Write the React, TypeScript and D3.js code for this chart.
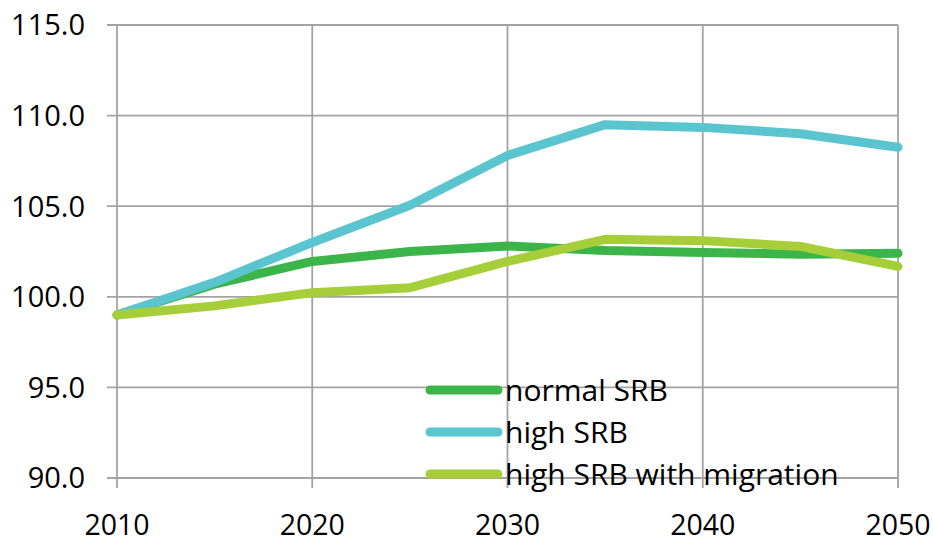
import React from "react";
import * as d3 from "d3";

const years = [2010, 2015, 2020, 2025, 2030, 2035, 2040, 2045, 2050];
const normalSRB = [99.0, 100.7, 101.95, 102.5, 102.8, 102.55, 102.45, 102.35, 102.4];
const highSRB = [99.0, 100.8, 103.0, 105.05, 107.8, 109.5, 109.35, 109.0, 108.25];
const highSRBMigration = [99.0, 99.5, 100.23, 100.5, 101.95, 103.17, 103.1, 102.78, 101.68];
const yTicks = [90, 95, 100, 105, 110, 115];
const xTicks = [2010, 2020, 2030, 2040, 2050];

const series = [
  { name: "normal SRB", values: normalSRB, color: "#3bb54a" },
  { name: "high SRB", values: highSRB, color: "#5bc5cf" },
  { name: "high SRB with migration", values: highSRBMigration, color: "#a6ce39" },
];

const W = 933;
const H = 546;
const left = 117;
const right = 898;
const top = 25;
const bottom = 478;
const FONT = "'Open Sans', sans-serif";

export default function App() {
  const x = d3.scaleLinear().domain([2010, 2050]).range([left, right]);
  const y = d3.scaleLinear().domain([90, 115]).range([bottom, top]);
  const line = d3
    .line<number>()
    .x((_, i) => x(years[i]))
    .y((d) => y(d));
  const grid = "#a3a3a3";
  return (
    <svg width={W} height={H} style={{ position: "absolute", left: 0, top: 0, background: "#fff" }}>
      {yTicks.map((t) => (
        <g key={"y" + t}>
          <line x1={left - 10} x2={right} y1={y(t)} y2={y(t)} stroke={grid} strokeWidth={1.8} />
          <text x={85} y={y(t)} dy="0.36em" textAnchor="end" fontFamily={FONT} fontSize={29} fill="#000">
            {t.toFixed(1)}
          </text>
        </g>
      ))}
      {xTicks.map((t) => (
        <g key={"x" + t}>
          <line x1={x(t)} x2={x(t)} y1={top} y2={bottom + 10} stroke={grid} strokeWidth={1.8} />
          <text x={x(t)} y={535} textAnchor="middle" fontFamily={FONT} fontSize={28.5} fill="#000">
            {t}
          </text>
        </g>
      ))}
      {series.map((s) => (
        <path
          key={s.name}
          d={line(s.values) || ""}
          fill="none"
          stroke={s.color}
          strokeWidth={9}
          strokeLinecap="round"
          strokeLinejoin="round"
        />
      ))}
      {series.map((s, i) => {
        const ly = 390 + i * 42;
        return (
          <g key={"leg" + s.name}>
            <line x1={430} x2={498} y1={ly} y2={ly} stroke={s.color} strokeWidth={9} strokeLinecap="round" />
            <text x={505} y={ly} dy="0.36em" fontFamily={FONT} fontSize={30} fill="#000">
              {s.name}
            </text>
          </g>
        );
      })}
    </svg>
  );
}
